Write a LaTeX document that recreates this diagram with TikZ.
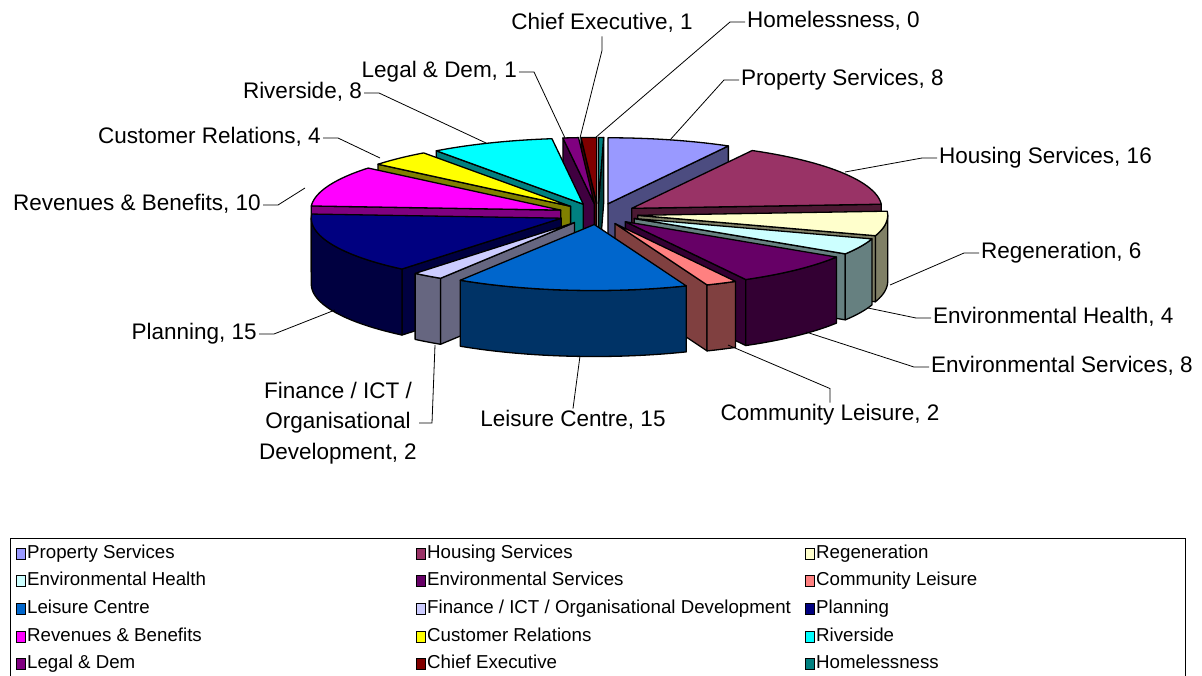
\documentclass[tikz,border=0pt]{standalone}
\usepackage{fontspec}
\setmainfont{Liberation Sans}
\usetikzlibrary{positioning}

\definecolor{propcol}{HTML}{9999FF}
\definecolor{houscol}{HTML}{993366}
\definecolor{regencol}{HTML}{FFFFCC}
\definecolor{envhcol}{HTML}{CCFFFF}
\definecolor{envscol}{HTML}{660066}
\definecolor{commcol}{HTML}{FF8080}
\definecolor{leiscol}{HTML}{0066CC}
\definecolor{fincol}{HTML}{CCCCFF}
\definecolor{plancol}{HTML}{000080}
\definecolor{revcol}{HTML}{FF00FF}
\definecolor{custcol}{HTML}{FFFF00}
\definecolor{rivcol}{HTML}{00FFFF}
\definecolor{legalcol}{HTML}{800080}
\definecolor{chiefcol}{HTML}{800000}
\definecolor{homecol}{HTML}{008080}

% pie centre, radii, explosion and height (in pixels)
\def\piecx{598}
\def\piecy{214}
\def\pierx{250}
\def\piery{66}
\def\pieex{40}
\def\pieh{66}

\tikzset{
  face/.style={draw=black, line width=1.3pt, line join=round},
  lblmulti/.style={font=\fontsize{22.5}{30.5}\selectfont, inner sep=2pt},
  lbl/.style={lblmulti, text height=16pt, text depth=4.5pt},
  leader/.style={draw=black, line width=0.8pt},
  lgd/.style={font=\fontsize{18.7}{22}\selectfont, inner sep=1pt, anchor=west, text height=13.5pt, text depth=4pt},
  swatch/.style={draw=black, line width=1pt}
}

% one exploded slice from angle #1 to #2 (clockwise chart, #1 < #2)
\newcommand{\pieslice}[3]{%
  \pgfmathsetmacro{\midang}{(#1+#2)/2}
  \pgfmathsetmacro{\ox}{\piecx+\pieex*cos(\midang)}
  \pgfmathsetmacro{\oy}{\piecy-\pieex*\piery/\pierx*sin(\midang)}
  \pgfmathtruncatemacro{\va}{cos(#1)>0.001}
  \ifnum\va=1
    \draw[face, fill=#3!50!black] (\ox,\oy) -- ({\ox+\pierx*cos(#1)},{\oy-\piery*sin(#1)}) -- ++(0,\pieh) -- (\ox,{\oy+\pieh}) -- cycle;
  \fi
  \pgfmathtruncatemacro{\vb}{cos(#2)<-0.001}
  \ifnum\vb=1
    \draw[face, fill=#3!50!black] (\ox,\oy) -- ({\ox+\pierx*cos(#2)},{\oy-\piery*sin(#2)}) -- ++(0,\pieh) -- (\ox,{\oy+\pieh}) -- cycle;
  \fi
  \pgfmathsetmacro{\angLo}{max(#1,-180)}
  \pgfmathsetmacro{\angHi}{min(#2,0)}
  \pgfmathtruncatemacro{\vc}{\angHi>\angLo}
  \ifnum\vc=1
    \draw[face, fill=#3!50!black] plot[domain=\angLo:\angHi, samples=30] ({\ox+\pierx*cos(\x)},{\oy-\piery*sin(\x)})
      -- plot[domain=\angHi:\angLo, samples=30] ({\ox+\pierx*cos(\x)},{\oy-\piery*sin(\x)+\pieh}) -- cycle;
  \fi
  \draw[face, fill=#3] (\ox,\oy) -- plot[domain=#1:#2, samples=30] ({\ox+\pierx*cos(\x)},{\oy-\piery*sin(\x)}) -- cycle;
}

\begin{document}
\begin{tikzpicture}[x=1pt, y=-1pt]

\useasboundingbox (0,0) rectangle (1202,675);
\fill[white] (0,0) rectangle (1202,675);

%Draw slices, back ones first
\foreach \a/\b/\col in {-271.2/-270/homecol, -270/-266.4/chiefcol, -266.4/-262.8/legalcol,
    61.2/90/propcol, -262.8/-234/rivcol, -234/-219.6/custcol, 3.6/61.2/houscol,
    -219.6/-183.6/revcol, -18/3.6/regencol, -183.6/-129.6/plancol, -32.4/-18/envhcol,
    -61.2/-32.4/envscol, -129.6/-122.4/fincol, -68.4/-61.2/commcol, -122.4/-68.4/leiscol} {
\pieslice{\a}{\b}{\col}
}

%Draw labels
\node[lbl] (chief) at (602,24) {Chief Executive, 1};
\node[lbl, anchor=west] (homeless) at (745,22) {Homelessness, 0};
\node[lbl, anchor=east] (legal) at (519,72) {Legal \& Dem, 1};
\node[lbl, anchor=west] (property) at (739,80) {Property Services, 8};
\node[lbl, anchor=west] (housing) at (937,158) {Housing Services, 16};
\node[lbl, anchor=west] (regen) at (979,253) {Regeneration, 6};
\node[lbl, anchor=west] (envh) at (931,318) {Environmental Health, 4};
\node[lbl, anchor=west] (envs) at (929,367) {Environmental Services, 8};
\node[lbl] (comm) at (830,415) {Community Leisure, 2};
\node[lbl] (leisure) at (573,421) {Leisure Centre, 15};
\node[lblmulti, anchor=east, align=center] (finance) at (419,423) {Finance / ICT /\\Organisational\\Development, 2};
\node[lbl, anchor=east] (planning) at (259,334) {Planning, 15};
\node[lbl, anchor=east] (revenues) at (263,205) {Revenues \& Benefits, 10};
\node[lbl, anchor=east] (customer) at (323,138) {Customer Relations, 4};
\node[lbl, anchor=east] (riverside) at (364,93) {Riverside, 8};

%Draw leader lines
\coordinate (chiefP) at (580,138);
\coordinate (homelessP) at (595,138);
\coordinate (legalP) at (565,138);
\coordinate (propertyP) at (670,140);
\coordinate (housingP) at (845,172);
\coordinate (regenP) at (890,285);
\coordinate (envhP) at (868,308);
\coordinate (envsP) at (806,332);
\coordinate (commP) at (728,345);
\coordinate (leisureP) at (580,356);
\coordinate (financeP) at (435,345);
\coordinate (planningP) at (335,310);
\coordinate (revenuesP) at (305,188);
\coordinate (customerP) at (380,158);
\coordinate (riversideP) at (486,143);

\draw[leader] (chief.south) -- ++(0,14) -- (chiefP);
\draw[leader] (homeless.west) -- ++(-15,0) -- (homelessP);
\draw[leader] (legal.east) -- ++(15,0) -- (legalP);
\draw[leader] (property.west) -- ++(-15,0) -- (propertyP);
\draw[leader] (housing.west) -- ++(-15,0) -- (housingP);
\draw[leader] (regen.west) -- ++(-15,0) -- (regenP);
\draw[leader] (envh.west) -- ++(-15,0) -- (envhP);
\draw[leader] (envs.west) -- ++(-15,0) -- (envsP);
\draw[leader] (comm.north) -- ++(0,-14) -- (commP);
\draw[leader] (leisure.north) -- (leisureP);
\draw[leader] (finance.east) -- ++(13,0) -- (financeP);
\draw[leader] (planning.east) -- ++(15,0) -- (planningP);
\draw[leader] (revenues.east) -- ++(15,0) -- (revenuesP);
\draw[leader] (customer.east) -- ++(15,0) -- (customerP);
\draw[leader] (riverside.east) -- ++(15,0) -- (riversideP);

%Draw legend
\draw[line width=0.8pt] (10,538) rectangle (1185,680);
\foreach \xx/\yy/\col/\txt [count=\i] in {
    16/554/propcol/{Property Services}, 416/554/houscol/{Housing Services}, 805/554/regencol/{Regeneration},
    16/581/envhcol/{Environmental Health}, 416/581/envscol/{Environmental Services}, 805/581/commcol/{Community Leisure},
    16/609/leiscol/{Leisure Centre}, 416/609/fincol/{Finance / ICT / Organisational Development}, 805/609/plancol/{Planning},
    16/637/revcol/{Revenues \& Benefits}, 416/637/custcol/{Customer Relations}, 805/637/rivcol/{Riverside},
    16/664/legalcol/{Legal \& Dem}, 416/664/chiefcol/{Chief Executive}, 805/664/homecol/{Homelessness}} {
\draw[swatch, fill=\col] (\xx,\yy-5.5) rectangle ++(9,11);
\node[lgd] (lg\i) at (\xx+10,\yy) {\txt};
}

\end{tikzpicture}
\end{document}
